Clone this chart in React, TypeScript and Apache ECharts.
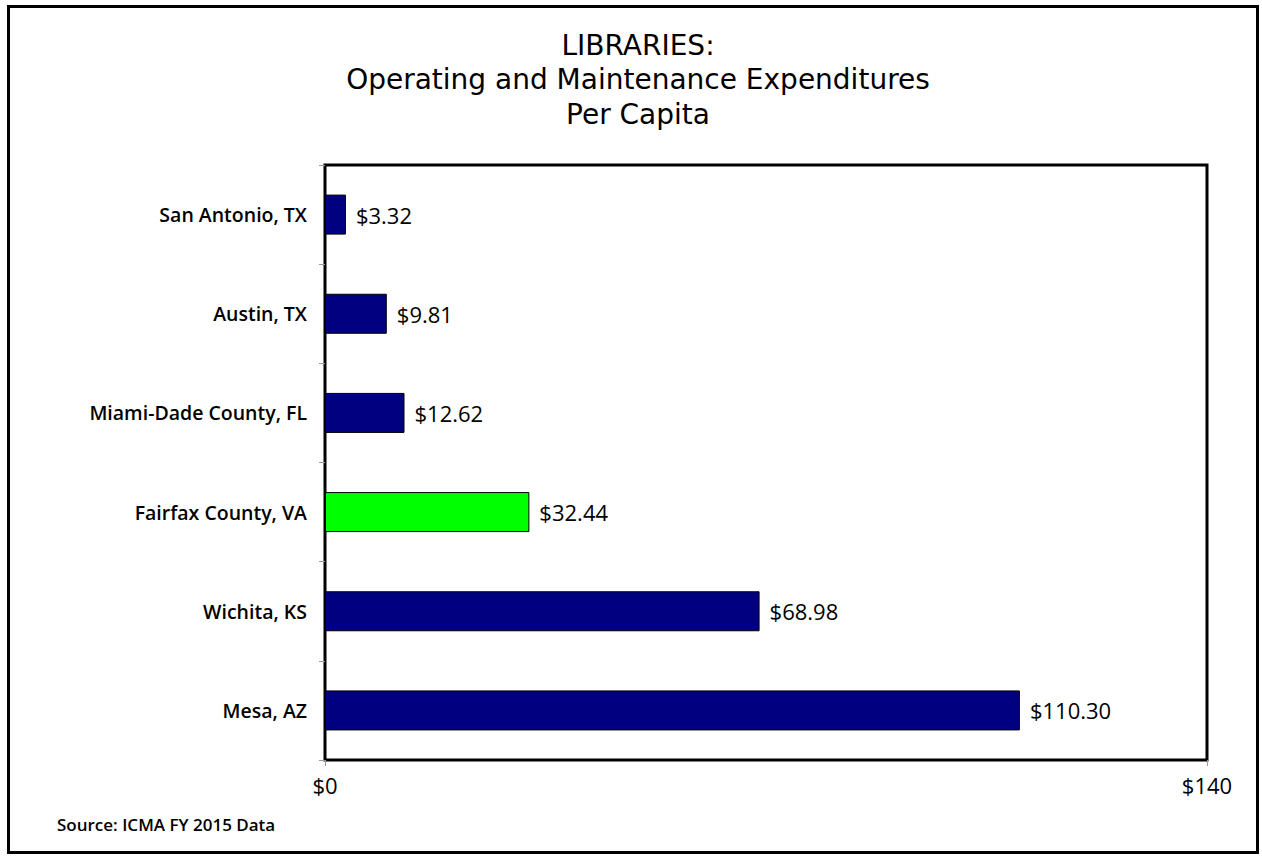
import React, { useEffect, useRef } from "react";
import * as echarts from "echarts";

const categories = ["Mesa, AZ", "Wichita, KS", "Fairfax County, VA", "Miami-Dade County, FL", "Austin, TX", "San Antonio, TX"];
const values = [110.3, 68.98, 32.44, 12.62, 9.81, 3.32];
const highlight = "Fairfax County, VA";
const titleLines = ["LIBRARIES:", "Operating and Maintenance Expenditures", "Per Capita"];
const sourceText = "Source: ICMA FY 2015 Data";
const xMin = 0;
const xMax = 140;

const FONT = "'Open Sans', 'Liberation Sans', Arial, sans-serif";
const TITLE_FONT = "'DejaVu Sans', 'Open Sans', sans-serif";

export default function App() {
  const ref = useRef<HTMLDivElement>(null);
  useEffect(() => {
    document.body.style.margin = "0";
    const chart = echarts.init(ref.current!, null, { renderer: "svg" });
    const titleGraphics = titleLines.map((t, i) => ({
      type: "text",
      x: 638,
      y: 45 + i * 34.5,
      style: { text: t, font: `28px ${TITLE_FONT}`, fill: "#000", textAlign: "center", textVerticalAlign: "middle" },
    }));
    chart.setOption({
      animation: false,
      backgroundColor: "#ffffff",
      graphic: [
        { type: "rect", shape: { x: 8.5, y: 6.5, width: 1249, height: 846 }, style: { fill: "none", stroke: "#000", lineWidth: 3 } },
        ...titleGraphics,
        { type: "text", left: 57, top: 816, style: { text: sourceText, font: `600 17px ${FONT}`, fill: "#000" } },
      ],
      grid: { left: 325, right: 55, top: 165, bottom: 96, show: true, borderColor: "#000", borderWidth: 3, backgroundColor: "#fff" },
      xAxis: {
        type: "value",
        min: xMin,
        max: xMax,
        interval: xMax - xMin,
        splitLine: { show: false },
        axisLine: { show: false },
        axisTick: { show: true, length: 6, lineStyle: { color: "#999" } },
        axisLabel: { formatter: (v: number) => "$" + v, fontFamily: FONT, fontSize: 22, color: "#000", margin: 14 },
      },
      yAxis: {
        type: "category",
        data: categories,
        axisLine: { show: false },
        axisTick: { show: true, length: 6, lineStyle: { color: "#999" } },
        axisLabel: { fontFamily: FONT, fontSize: 19.5, fontWeight: 600, color: "#000", margin: 18 },
      },
      series: [
        {
          type: "bar",
          barWidth: 40,
          data: values.map((v, i) => ({
            value: v,
            itemStyle: { color: categories[i] === highlight ? "#00ff00" : "#000080", borderColor: "#000", borderWidth: 1 },
          })),
          label: {
            show: true,
            position: "right",
            distance: 10,
            formatter: (p: any) => "$" + p.value.toFixed(2),
            fontFamily: FONT,
            fontSize: 22,
            color: "#000",
          },
        },
      ],
    });
    return () => chart.dispose();
  }, []);
  return <div ref={ref} style={{ width: 1262, height: 856 }} />;
}
